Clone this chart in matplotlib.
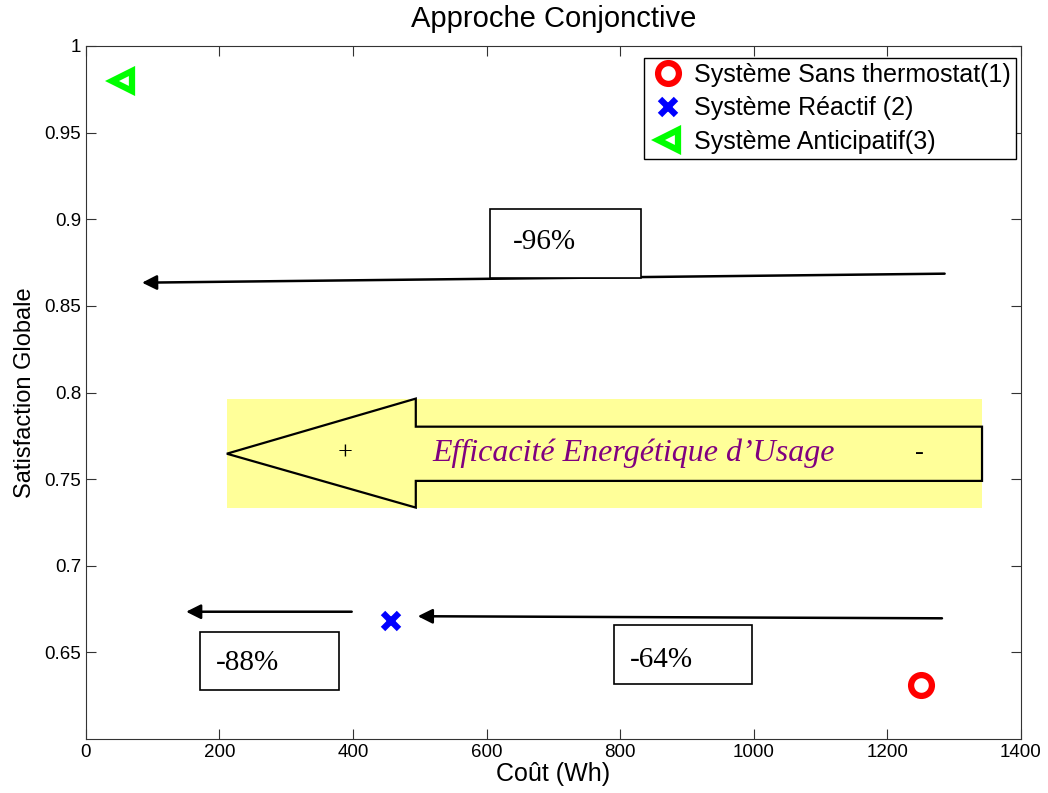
import matplotlib.pyplot as plt
from matplotlib.patches import Rectangle, Polygon

plt.rcParams['font.family'] = ['Liberation Sans', 'DejaVu Sans']

# données
cout = [1250, 457, 54]
satisfaction = [0.631, 0.668, 0.980]
systemes = ["Système Sans thermostat(1)", "Système Réactif (2)", "Système Anticipatif(3)"]
gains = ["-96%", "-88%", "-64%"]

fig = plt.figure(figsize=(10.48, 7.93), dpi=100)
ax = fig.add_axes([0.082, 0.068, 0.892, 0.874])

# points
ax.plot(cout[0], satisfaction[0], 'o', ms=15, mfc='none', mec='#ff0000', mew=4.5, label=systemes[0])
ax.plot(cout[1], satisfaction[1], 'x', ms=12, mec='#0000ff', mew=4.5, label=systemes[1])
ax.plot(cout[2], satisfaction[2], '<', ms=15, mfc='none', mec='#00ff00', mew=4.5, label=systemes[2])

# fleches de reduction
fleche = dict(arrowstyle='-|>', mutation_scale=22, lw=1.8, color='k', shrinkA=0, shrinkB=0)
ax.annotate("", xy=(84, 0.8634), xytext=(1286, 0.8686), arrowprops=fleche)
ax.annotate("", xy=(150, 0.6735), xytext=(398, 0.6735), arrowprops=fleche)
ax.annotate("", xy=(497, 0.6709), xytext=(1282, 0.6697), arrowprops=fleche)

# cadres des pourcentages
serif = ['Liberation Serif', 'DejaVu Serif']
cadres = [(605, 0.866, 227, 0.040), (171, 0.6286, 208, 0.0334), (791, 0.632, 206, 0.034)]
textes_pos = [(640, 0.887), (195, 0.644), (815, 0.6456)]
for (x0, y0, w, h), (tx, ty), g in zip(cadres, textes_pos, gains):
    ax.add_patch(Rectangle((x0, y0), w, h, fc='white', ec='k', lw=1.2, zorder=3))
    ax.text(tx, ty, g, family=serif, fontsize=21, ha='left', va='center', zorder=4)

# grande fleche "Efficacite Energetique d'Usage"
ax.add_patch(Rectangle((211, 0.7336), 1131, 0.0629, fc='#ffff99', ec='none', zorder=1))
ax.add_patch(Polygon([(211, 0.7647), (494, 0.7965), (494, 0.7803), (1342, 0.7803),
                      (1342, 0.749), (494, 0.749), (494, 0.7336)],
                     closed=True, fc='#ffff99', ec='k', lw=1.6, zorder=2))
ax.text(388, 0.765, "+", family=serif, fontsize=19, ha='center', va='center', zorder=3)
ax.text(820, 0.765, "Efficacité Energétique d’Usage", family=serif, style='italic',
        fontsize=23, color='#800080', ha='center', va='center', zorder=3)
ax.text(1249, 0.765, "-", family=serif, fontsize=19, ha='center', va='center', zorder=3)

ax.set_xlim(0, 1400)
ax.set_ylim(0.6, 1)
ax.set_xticks(range(0, 1401, 200))
ax.set_yticks([0.65, 0.7, 0.75, 0.8, 0.85, 0.9, 0.95, 1])
ax.set_yticklabels(["0.65", "0.7", "0.75", "0.8", "0.85", "0.9", "0.95", "1"])
ax.tick_params(direction='in', top=True, right=True, labelsize=13.5, length=7, color='#333333')
for s in ax.spines.values():
    s.set_color('#333333')

ax.set_xlabel("Coût (Wh)", fontsize=18, labelpad=1)
ax.set_ylabel("Satisfaction Globale", fontsize=17, labelpad=6)
ax.set_title("Approche Conjonctive", fontsize=21, pad=14)

leg = ax.legend(loc='upper right', bbox_to_anchor=(0.9947, 0.9827), borderaxespad=0,
                fontsize=18, frameon=True, fancybox=False, framealpha=1,
                edgecolor='k', handlelength=1.5, handletextpad=0.3, borderpad=0.2,
                labelspacing=0.38)
leg.get_frame().set_linewidth(1.0)

fig.savefig("out.png", dpi=100)
